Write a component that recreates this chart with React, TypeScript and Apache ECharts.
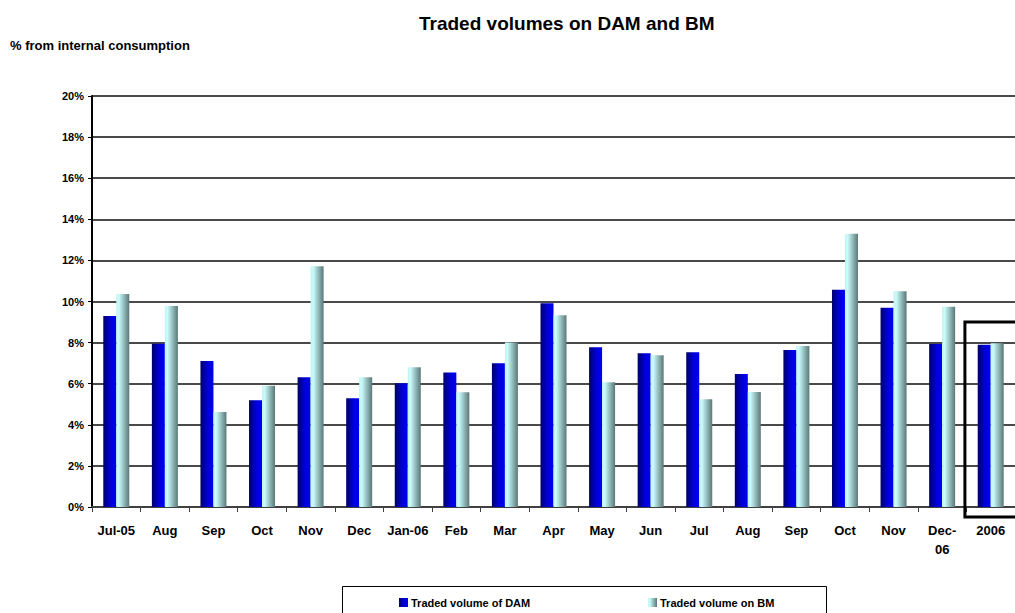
import React, { useEffect, useRef } from "react";
import * as echarts from "echarts";

const categories = ["Jul-05", "Aug", "Sep", "Oct", "Nov", "Dec", "Jan-06", "Feb", "Mar", "Apr", "May", "Jun", "Jul", "Aug", "Sep", "Oct", "Nov", "Dec-06", "2006"];
const damValues = [9.3, 7.94, 7.1, 5.2, 6.31, 5.29, 6.02, 6.55, 6.99, 9.91, 7.77, 7.48, 7.53, 6.47, 7.64, 10.57, 9.7, 7.93, 7.9];
const bmValues = [10.37, 9.78, 4.62, 5.9, 11.71, 6.31, 6.8, 5.58, 8.01, 9.33, 6.07, 7.38, 5.24, 5.6, 7.83, 13.3, 10.5, 9.75, 7.97];
const damName = "Traded volume of DAM";
const bmName = "Traded volume on BM";
const titleText = "Traded volumes on DAM and BM";
const yAxisTitle = "% from internal consumption";
const highlightCategory = "2006";
const highlightTop = 9;

const FONT = "'Liberation Sans', Arial, sans-serif";

export default function App() {
  const ref = useRef<HTMLDivElement>(null);
  useEffect(() => {
    if (!ref.current) return;
    const chart = echarts.init(ref.current, null, { renderer: "svg" });
    const damGrad = new echarts.graphic.LinearGradient(0, 0, 1, 0, [
      { offset: 0, color: "#00006a" },
      { offset: 0.55, color: "#0000d8" },
      { offset: 1, color: "#0000f2" },
    ]);
    const bmGrad = new echarts.graphic.LinearGradient(0, 0, 1, 0, [
      { offset: 0, color: "#c2f2f2" },
      { offset: 0.2, color: "#cafcfc" },
      { offset: 1, color: "#5a7777" },
    ]);
    const option: any = {
      animation: false,
      backgroundColor: "#ffffff",
      title: [
        {
          text: titleText,
          left: 419,
          top: 14,
          padding: 0,
          textStyle: { fontFamily: FONT, fontSize: 19, fontWeight: "bold", color: "#000" },
        },
        {
          text: yAxisTitle,
          left: 10,
          top: 39,
          padding: 0,
          textStyle: { fontFamily: FONT, fontSize: 13, fontWeight: "bold", color: "#000" },
        },
      ],
      legend: [
        {
          data: [damName],
          left: 399,
          top: 597,
          padding: 0,
          icon: "rect",
          itemWidth: 9,
          itemHeight: 9,
          textStyle: { fontFamily: FONT, fontSize: 11, fontWeight: "bold", color: "#000", padding: [0, 0, 0, -2] },
        },
        {
          data: [bmName],
          left: 648,
          top: 597,
          padding: 0,
          icon: "rect",
          itemWidth: 9,
          itemHeight: 9,
          textStyle: { fontFamily: FONT, fontSize: 11, fontWeight: "bold", color: "#000", padding: [0, 0, 0, -2] },
        },
      ],
      grid: { left: 92, right: -8, top: 96, bottom: 106, containLabel: false },
      xAxis: {
        type: "category",
        data: categories,
        axisLine: { show: true, lineStyle: { color: "#404040", width: 2 } },
        axisTick: { show: true, alignWithLabel: false, length: 5, lineStyle: { color: "#404040", width: 1 } },
        axisLabel: {
          interval: 0,
          margin: 14,
          fontFamily: FONT,
          fontSize: 13,
          fontWeight: "bold",
          color: "#000",
          lineHeight: 19,
          formatter: (v: string) => (v === "Dec-06" ? "Dec-\n06" : v),
        },
        splitLine: { show: false },
      },
      yAxis: {
        type: "value",
        min: 0,
        max: 20,
        interval: 2,
        axisLine: { show: true, lineStyle: { color: "#000", width: 2 } },
        axisTick: { show: true, length: 4, lineStyle: { color: "#000", width: 1 } },
        axisLabel: {
          margin: 8,
          fontFamily: FONT,
          fontSize: 11,
          fontWeight: "bold",
          color: "#000",
          formatter: "{value}%",
        },
        splitLine: {
          show: true,
          lineStyle: { color: "#4a4a4a", width: 2 },
        },
      },
      series: [
        {
          name: damName,
          type: "bar",
          data: damValues,
          barWidth: 13,
          barGap: "0%",
          itemStyle: { color: damGrad },
        },
        {
          name: bmName,
          type: "bar",
          data: bmValues,
          barWidth: 13,
          barGap: "0%",
          itemStyle: { color: bmGrad },
        },
      ],
    };
    chart.setOption(option);

    const idx = categories.indexOf(highlightCategory);
    const cx = chart.convertToPixel({ xAxisIndex: 0 }, idx) as number;
    const cxPrev = chart.convertToPixel({ xAxisIndex: 0 }, idx - 1) as number;
    const band = cx - cxPrev;
    const yTop = chart.convertToPixel({ yAxisIndex: 0 }, highlightTop) as number;
    const yZero = chart.convertToPixel({ yAxisIndex: 0 }, 0) as number;
    chart.setOption({
      graphic: [
        {
          type: "rect",
          shape: { x: cx - band / 2 - 1.5, y: yTop, width: band + 10, height: yZero - yTop + 10 },
          style: { fill: "none", stroke: "#000", lineWidth: 3 },
          z: 100,
        },
        {
          type: "rect",
          shape: { x: 342.5, y: 586.5, width: 484, height: 40 },
          style: { fill: "none", stroke: "#000", lineWidth: 1 },
          z: 100,
        },
      ],
    });
    return () => chart.dispose();
  }, []);
  return <div ref={ref} style={{ position: "fixed", left: 0, top: 0, width: 1015, height: 613 }} />;
}
